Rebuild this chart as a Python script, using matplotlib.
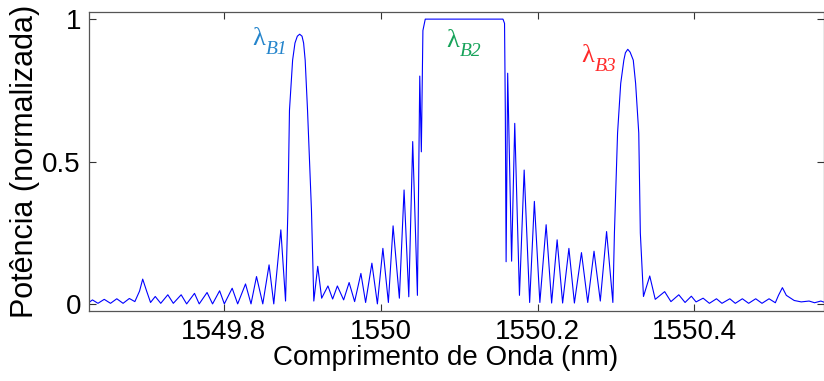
import matplotlib
matplotlib.use('Agg')
import matplotlib.pyplot as plt

# reflection spectrum (peaks and valleys)
wl_nm = [
    1549.630, 1549.633, 1549.640, 1549.648, 1549.656, 1549.664, 1549.672, 1549.680,
    1549.687, 1549.693, 1549.697, 1549.702, 1549.707, 1549.713, 1549.720, 1549.729,
    1549.736, 1549.746, 1549.753, 1549.763, 1549.769, 1549.779, 1549.786, 1549.795,
    1549.801, 1549.811, 1549.818, 1549.828, 1549.835, 1549.842, 1549.850, 1549.858,
    1549.864, 1549.873, 1549.879, 1549.882, 1549.884, 1549.888, 1549.891, 1549.894,
    1549.897, 1549.900, 1549.902, 1549.904, 1549.907, 1549.912, 1549.915, 1549.920,
    1549.925, 1549.933, 1549.939, 1549.945, 1549.953, 1549.960, 1549.967, 1549.975,
    1549.981, 1549.989, 1549.996, 1550.003, 1550.010, 1550.016, 1550.024, 1550.030,
    1550.036, 1550.041, 1550.047, 1550.050, 1550.052, 1550.054, 1550.057, 1550.156,
    1550.158, 1550.159, 1550.160, 1550.162, 1550.167, 1550.171, 1550.177, 1550.183,
    1550.190, 1550.196, 1550.203, 1550.211, 1550.218, 1550.225, 1550.232, 1550.240,
    1550.247, 1550.256, 1550.264, 1550.272, 1550.280, 1550.288, 1550.296, 1550.298,
    1550.302, 1550.306, 1550.310, 1550.312, 1550.315, 1550.318, 1550.322, 1550.325,
    1550.329, 1550.331, 1550.335, 1550.343, 1550.350, 1550.362, 1550.370, 1550.380,
    1550.388, 1550.396, 1550.402, 1550.411, 1550.419, 1550.428, 1550.435, 1550.445,
    1550.452, 1550.461, 1550.469, 1550.478, 1550.486, 1550.495, 1550.503, 1550.507,
    1550.512, 1550.517, 1550.527, 1550.536, 1550.546, 1550.553, 1550.561, 1550.565,
]
power = [
    0.008, 0.014, 0.002, 0.016, 0.002, 0.018, 0.002, 0.019,
    0.008, 0.045, 0.087, 0.045, 0.005, 0.026, 0.002, 0.032,
    0.002, 0.032, 0.000, 0.037, 0.000, 0.040, 0.000, 0.046,
    0.000, 0.055, 0.000, 0.070, 0.000, 0.096, 0.000, 0.137,
    0.000, 0.260, 0.010, 0.330, 0.680, 0.856, 0.916, 0.940,
    0.947, 0.940, 0.916, 0.856, 0.680, 0.330, 0.010, 0.132,
    0.020, 0.063, 0.017, 0.063, 0.014, 0.075, 0.008, 0.107,
    0.005, 0.143, 0.000, 0.195, 0.005, 0.274, 0.020, 0.400,
    0.025, 0.570, 0.030, 0.800, 0.534, 0.960, 1.000, 1.000,
    0.985, 0.670, 0.148, 0.810, 0.150, 0.634, 0.030, 0.470,
    0.005, 0.360, 0.005, 0.278, 0.003, 0.225, 0.003, 0.195,
    0.003, 0.180, 0.005, 0.185, 0.010, 0.254, 0.005, 0.250,
    0.600, 0.774, 0.856, 0.882, 0.894, 0.884, 0.856, 0.774,
    0.600, 0.249, 0.026, 0.098, 0.016, 0.043, 0.008, 0.032,
    0.005, 0.027, 0.007, 0.020, 0.002, 0.018, 0.002, 0.018,
    0.002, 0.018, 0.002, 0.018, 0.002, 0.018, 0.004, 0.030,
    0.057, 0.030, 0.012, 0.007, 0.010, 0.004, 0.010, 0.006,
]

xticks = [1549.8, 1550.0, 1550.2, 1550.4]
xticklabels = ['1549.8', '1550', '1550.2', '1550.4']
yticks = [0, 0.5, 1]
yticklabels = ['0', '0.5', '1']

peak_names = ['B1', 'B2', 'B3']
peak_x = [1549.837, 1550.084, 1550.256]
peak_y = [0.909, 0.902, 0.849]
peak_colors = ['#2585cc', '#17a35a', '#ff2a2a']

plt.rcParams['font.family'] = ['Liberation Sans', 'DejaVu Sans']

fig = plt.figure(figsize=(8.24, 3.81), dpi=100)
ax = fig.add_axes([0.1084, 0.1837, 0.8916, 0.7848])

ax.plot(wl_nm, power, color='#0000ff', linewidth=0.8)

ax.set_xlim(1549.629, 1550.565)
ax.set_ylim(-0.025, 1.025)
ax.set_xticks(xticks)
ax.set_xticklabels(xticklabels)
ax.set_yticks(yticks)
ax.set_yticklabels(yticklabels)
ax.tick_params(direction='in', top=True, right=True, length=5, width=0.8,
               color='#333333', labelsize=20, pad=6)
for s in ax.spines.values():
    s.set_color('#555555')
    s.set_linewidth(0.9)

ax.set_xlabel('Comprimento de Onda (nm)', fontsize=20)
ax.xaxis.set_label_coords(0.485, -0.115)
ax.set_ylabel('Potência (normalizada)', fontsize=22, labelpad=2)

for name, x, y, c in zip(peak_names, peak_x, peak_y, peak_colors):
    ax.text(x, y, 'λ', color=c, fontsize=19, family='Liberation Serif',
            ha='left', va='baseline')
    ax.text(x + 0.017, y - 0.03, name, color=c, fontsize=14,
            family='Liberation Serif', style='italic', ha='left', va='baseline')

fig.savefig('out.png', dpi=100)
